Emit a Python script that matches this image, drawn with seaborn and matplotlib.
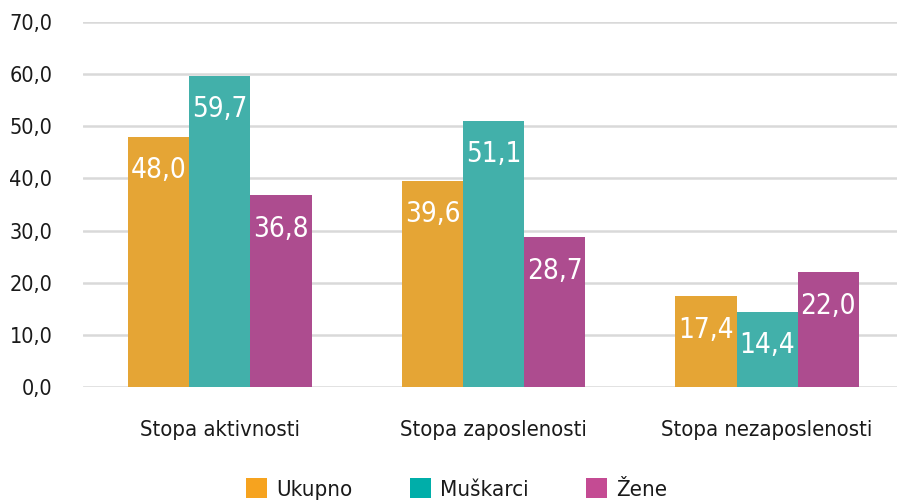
import pandas as pd
import matplotlib
matplotlib.use("Agg")
import matplotlib.pyplot as plt
from matplotlib.patches import Patch
import seaborn as sns

# Data
categories = ["Stopa aktivnosti", "Stopa zaposlenosti", "Stopa nezaposlenosti"]
series = ["Ukupno", "Muškarci", "Žene"]
ukupno = [48.0, 39.6, 17.4]
muskarci = [59.7, 51.1, 14.4]
zene = [36.8, 28.7, 22.0]
y_ticks = [0, 10, 20, 30, 40, 50, 60, 70]

bar_colors = ["#E5A535", "#42B0AA", "#AD4C8F"]
legend_colors = ["#F6A31F", "#00AEA9", "#C44B93"]

df = pd.DataFrame({
    "kategorija": categories * 3,
    "serija": [s for s in series for _ in categories],
    "vrijednost": ukupno + muskarci + zene,
})

sns.set_theme(style="white")
plt.rcParams["font.family"] = ["DejaVu Sans"]
plt.rcParams["font.stretch"] = "condensed"

fig = plt.figure(figsize=(8.97, 5.04), dpi=100)
ax = fig.add_axes([83 / 897, 1 - 387 / 504, 821 / 897, 365 / 504])

sns.barplot(data=df, x="kategorija", y="vrijednost", hue="serija",
            palette=bar_colors, width=0.67, gap=0, ax=ax, legend=False,
            saturation=1, linewidth=0)

# value labels inside the bars
for container in ax.containers:
    for bar in container:
        h = bar.get_height()
        ax.annotate(f"{h:.1f}".replace(".", ","),
                    (bar.get_x() + bar.get_width() / 2, h),
                    xytext=(0, -14), textcoords="offset points",
                    ha="center", va="top", color="white", fontsize=20)

ax.set_ylim(0, 70)
ax.set_yticks(y_ticks)
ax.set_yticklabels([f"{v:.1f}".replace(".", ",") for v in y_ticks],
                   fontsize=15.5, color="#1a1a1a")
ax.tick_params(axis="y", pad=22, length=0)
ax.tick_params(axis="x", pad=24, length=0, labelsize=15.8, labelcolor="#1a1a1a")
ax.set_xlabel("")
ax.set_ylabel("")
ax.set_xlim(-0.5, 2.5)
ax.yaxis.grid(True, color="#D9D9D9", linewidth=1.8)
ax.set_axisbelow(True)
sns.despine(ax=ax, left=True, bottom=True, top=True, right=True)

handles = [Patch(facecolor=c, edgecolor="none", label=s)
           for c, s in zip(legend_colors, series)]
fig.legend(handles=handles, loc="center", bbox_to_anchor=(0.509, 1 - 489 / 504),
           ncol=3, frameon=False, fontsize=16, handlelength=0.95,
           handleheight=0.95, handletextpad=0.4, columnspacing=2.6,
           labelcolor="#1a1a1a")

fig.savefig("out.png", dpi=100)
